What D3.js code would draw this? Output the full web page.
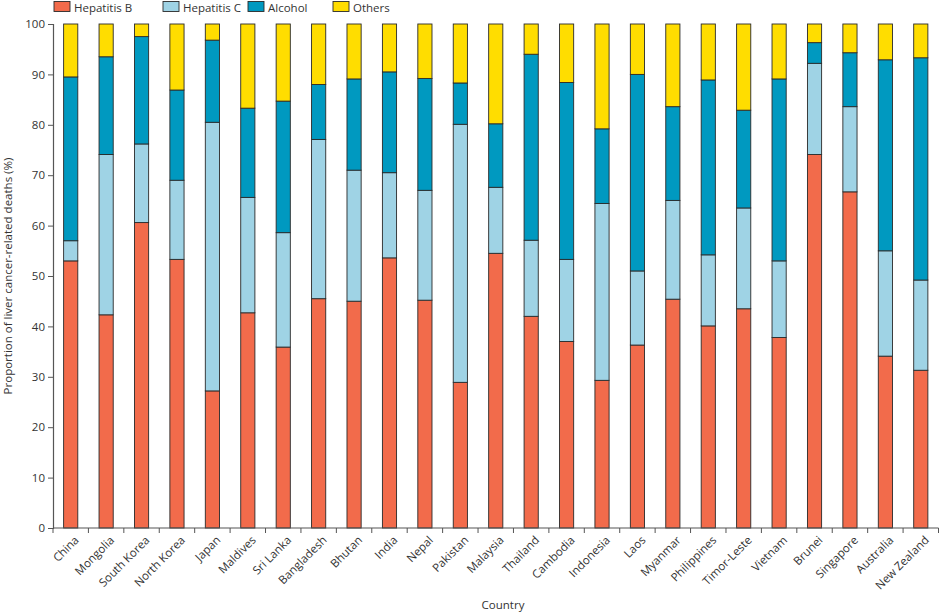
<!DOCTYPE html>
<html><head><meta charset="utf-8">
<script src="https://cdn.jsdelivr.net/npm/d3@7"></script>
<style>body{margin:0;background:#fff}svg{display:block}text{font-family:"Open Sans",sans-serif;fill:#333}</style>
</head><body>
<svg id="c" width="941" height="614"></svg>
<script>
const countries = ["China","Mongolia","South Korea","North Korea","Japan","Maldives","Sri Lanka","Bangladesh","Bhutan","India","Nepal","Pakistan","Malaysia","Thailand","Cambodia","Indonesia","Laos","Myanmar","Philippines","Timor-Leste","Vietnam","Brunei","Singapore","Australia","New Zealand"];
const hepatitisB = [53.0,42.3,60.6,53.3,27.2,42.7,35.9,45.5,45.0,53.6,45.2,28.9,54.5,42.0,37.0,29.3,36.3,45.4,40.1,43.5,37.8,74.1,66.7,34.1,31.3];
const hepatitisC = [4.0,31.8,15.6,15.7,53.3,22.9,22.7,31.6,26.0,16.9,21.8,51.2,13.1,15.1,16.3,35.1,14.7,19.6,14.1,20.0,15.2,18.1,16.9,20.9,17.9];
const alcohol    = [32.5,19.4,21.3,17.9,16.3,17.7,26.1,10.9,18.1,20.0,22.2,8.2,12.6,36.9,35.1,14.8,39.0,18.6,34.7,19.4,36.1,4.1,10.7,37.9,44.1];
const others     = [10.5,6.5,2.5,13.1,3.2,16.7,15.3,12.0,10.9,9.5,10.8,11.7,19.8,6.0,11.6,20.8,10.0,16.4,11.1,17.1,10.9,3.7,5.7,7.1,6.7];
const seriesNames = ["Hepatitis B","Hepatitis C","Alcohol","Others"];
const yTicks = [0,10,20,30,40,50,60,70,80,90,100];
const colors = ["#f26b4b","#9fd3e5","#0099c0","#ffdd00"];

const svg = d3.select("#c");
const x0 = 53, x1 = 938.5, yTop = 24, yBot = 528;
const x = d3.scaleBand().domain(countries).range([x0, x1]).paddingInner(0.6).paddingOuter(0.3);
const y = d3.scaleLinear().domain([0,100]).range([yBot, yTop]);

const table = countries.map((c,i)=>({country:c,"Hepatitis B":hepatitisB[i],"Hepatitis C":hepatitisC[i],"Alcohol":alcohol[i],"Others":others[i]}));
const stacked = d3.stack().keys(seriesNames)(table);
const color = d3.scaleOrdinal().domain(seriesNames).range(colors);

svg.append("g").selectAll("g").data(stacked).join("g")
  .attr("fill", d=>color(d.key))
  .selectAll("rect").data(d=>d).join("rect")
  .attr("x", d=>x(d.data.country))
  .attr("width", x.bandwidth())
  .attr("y", d=>y(Math.min(100,d[1])))
  .attr("height", d=>y(d[0]) - y(Math.min(100,d[1])))
  .attr("stroke","#2a2a2a").attr("stroke-width",0.9);

// y axis
const ya = svg.append("g").attr("transform",`translate(${x0},0)`)
  .call(d3.axisLeft(y).tickValues(yTicks).tickSize(5).tickPadding(3));
ya.select(".domain").attr("stroke","#555").attr("stroke-width",1.2);
ya.selectAll(".tick line").attr("stroke","#555");
ya.selectAll(".tick text").style("font-size","11.5px").attr("fill","#333");

// x axis: baseline with ticks between bands
const xa = svg.append("g");
xa.append("line").attr("x1",x0).attr("x2",x1).attr("y1",yBot).attr("y2",yBot).attr("stroke","#555").attr("stroke-width",1.2);
const bounds = d3.range(countries.length+1).map(i=>x0 + i*x.step());
xa.selectAll("line.t").data(bounds).join("line").attr("class","t")
  .attr("x1",d=>d).attr("x2",d=>d).attr("y1",yBot).attr("y2",yBot+5).attr("stroke","#555");
xa.selectAll("text").data(countries).join("text")
  .attr("transform",d=>`translate(${x(d)+x.bandwidth()/2+6},${yBot+10}) rotate(-45)`)
  .attr("text-anchor","end").attr("dy","0.35em")
  .style("font-size","11.5px").text(d=>d);

svg.append("text").attr("x",503).attr("y",609).attr("text-anchor","middle").style("font-size","11.5px").text("Country");
svg.append("text").attr("transform",`translate(12,${(yTop+yBot)/2}) rotate(-90)`).attr("text-anchor","middle")
  .style("font-size","11.5px").text("Proportion of liver cancer-related deaths (%)");

// legend
const legX = [54,163,248,333];
const lg = svg.append("g").selectAll("g").data(seriesNames).join("g")
  .attr("transform",(d,i)=>`translate(${legX[i]},1.5)`);
lg.append("rect").attr("width",16).attr("height",10).attr("fill",d=>color(d)).attr("stroke","#2a2a2a").attr("stroke-width",0.9);
lg.append("text").attr("x",20).attr("y",10.5).style("font-size","11.5px").text(d=>d);
</script>
</body></html>
